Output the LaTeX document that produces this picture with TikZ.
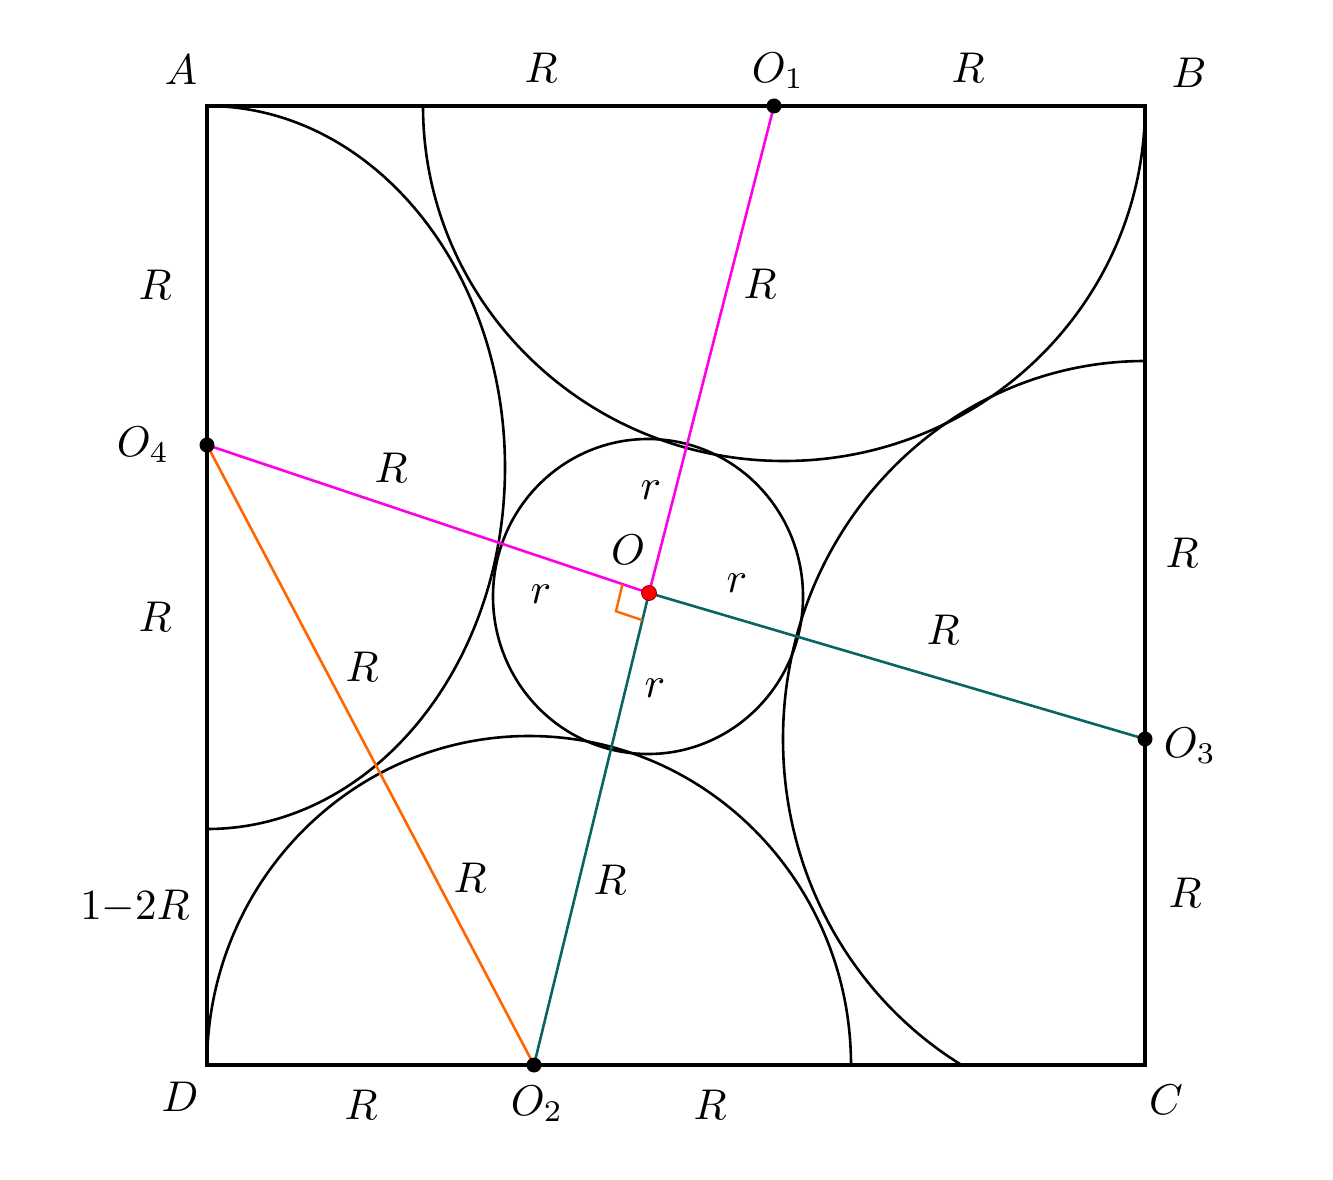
\documentclass[tikz,border=0pt]{standalone}
\definecolor{mag}{RGB}{255,0,230}
\definecolor{tealc}{RGB}{10,100,100}
\definecolor{orng}{RGB}{255,102,0}
\begin{document}
\begin{tikzpicture}[x=1pt,y=-1pt,
  lbl/.style={scale=4.3, inner sep=0pt},
  dot/.style={circle,fill=black,inner sep=0pt,minimum size=15pt},
  reddot/.style={circle,fill=red,draw=red!55!black,line width=0.8pt,inner sep=0pt,minimum size=15pt},
  curve/.style={line width=2.6pt},
  frame/.style={line width=3.2pt},
  seg/.style={line width=2.6pt}]
\useasboundingbox (0,0) rectangle (1333,1180);
% corners
\coordinate (A) at (207,106);
\coordinate (B) at (1145,106);
\coordinate (C) at (1145,1065);
\coordinate (D) at (207,1065);
% centres
\coordinate (cO1) at (774,106);
\coordinate (cO2) at (534,1065);
\coordinate (cO3) at (1145,739);
\coordinate (cO4) at (207,445);
\coordinate (cO) at (649,593);
% big arcs
\begin{scope}
\clip (A) rectangle (C);
\draw[curve] (784,106) ellipse [x radius=361, y radius=355];
\draw[curve] (207,467.5) ellipse [x radius=298, y radius=361.5];
\draw[curve] (1145,739) ellipse [x radius=362, y radius=378];
\draw[curve] (529,1065) ellipse [x radius=322, y radius=329];
\end{scope}
% small circle
\draw[curve] (648,596.5) ellipse [x radius=155, y radius=157.5];
% square
\draw[frame] (A) -- (B) -- (C) -- (D) -- cycle;
% segments
\draw[seg,mag] (cO4) -- (cO) -- (cO1);
\draw[seg,tealc] (cO3) -- (cO) -- (cO2);
\draw[seg,orng] (cO4) -- (cO2);
\draw[orng,line width=2.4pt] (622.5,584.1) -- (616,611.3) -- (642.4,620.2);
% dots
\node[dot] (O1) at (cO1) {};
\node[dot] (O2) at (cO2) {};
\node[dot] (O3) at (cO3) {};
\node[dot] (O4) at (cO4) {};
\node[reddot] (O) at (cO) {};
% labels
\node[lbl] (lA) at (181,70) {$A$};
\node[lbl] (lB) at (1189,73) {$B$};
\node[lbl] (lC) at (1166,1100) {$C$};
\node[lbl] (lD) at (180,1097) {$D$};
\node[lbl] (lO1) at (778,71) {$O_1$};
\node[lbl] (lO2) at (537,1104) {$O_2$};
\node[lbl] (lO3) at (1190,746) {$O_3$};
\node[lbl] (lO4) at (143,445) {$O_4$};
\node[lbl] (lO) at (628,550) {$O$};
\node[lbl] (t1) at (541,68) {$R$};
\node[lbl] (t2) at (968,68) {$R$};
\node[lbl] (l1) at (155,285) {$R$};
\node[lbl] (l2) at (155,617) {$R$};
\node[lbl] (l3) at (135,907) {$1{-}2R$};
\node[lbl] (r1) at (1182,553) {$R$};
\node[lbl] (r2) at (1185,893) {$R$};
\node[lbl] (b1) at (361,1105) {$R$};
\node[lbl] (b2) at (710,1105) {$R$};
\node[lbl] (i1) at (760,284) {$R$};
\node[lbl] (i2) at (391,468) {$R$};
\node[lbl] (i3) at (943,630) {$R$};
\node[lbl] (i4) at (362,667) {$R$};
\node[lbl] (i5) at (470,878) {$R$};
\node[lbl] (i6) at (610,880) {$R$};
\node[lbl] (s1) at (651,490) {$r$};
\node[lbl] (s2) at (541,594) {$r$};
\node[lbl] (s3) at (737,583) {$r$};
\node[lbl] (s4) at (655,688) {$r$};
\end{tikzpicture}
\end{document}
